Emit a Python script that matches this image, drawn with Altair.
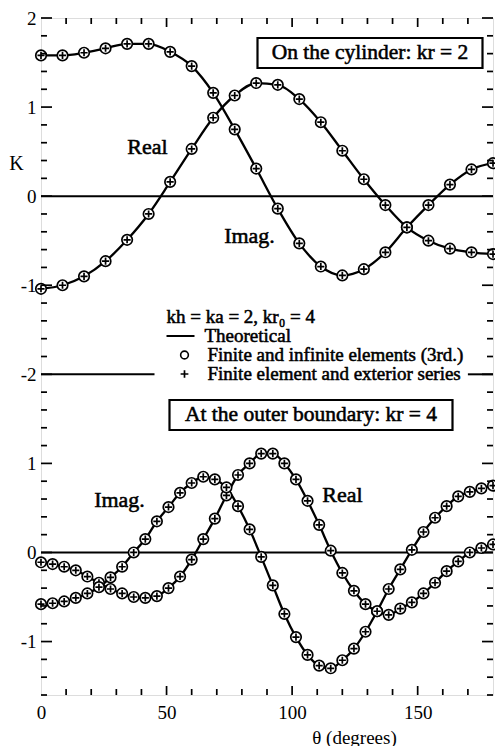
import altair as alt
import pandas as pd

# ---- node angles (degrees) -------------------------------------------------
theta_cyl = [0.00, 8.57, 17.14, 25.71, 34.29, 42.86, 51.43, 60.00, 68.57, 77.14, 85.71,
             94.29, 102.86, 111.43, 120.00, 128.57, 137.14, 145.71, 154.29, 162.86, 171.43, 180.00]
theta_out = [0.00, 4.62, 9.23, 13.85, 18.46, 23.08, 27.69, 32.31, 36.92, 41.54,
             46.15, 50.77, 55.38, 60.00, 64.62, 69.23, 73.85, 78.46, 83.08, 87.69,
             92.31, 96.92, 101.54, 106.15, 110.77, 115.38, 120.00, 124.62, 129.23, 133.85,
             138.46, 143.08, 147.69, 152.31, 156.92, 161.54, 166.15, 170.77, 175.38, 180.00]

# ---- K on the cylinder, kr = 2 ---------------------------------------------
real_cyl = [-1.04, -1.00, -0.90, -0.73, -0.49, -0.20, 0.16, 0.53, 0.88, 1.13, 1.27,
            1.25, 1.09, 0.83, 0.51, 0.19, -0.10, -0.35, -0.50, -0.59, -0.63, -0.65]
imag_cyl = [1.58, 1.58, 1.61, 1.66, 1.71, 1.71, 1.62, 1.46, 1.16, 0.75, 0.31,
            -0.14, -0.53, -0.79, -0.89, -0.82, -0.63, -0.35, -0.10, 0.13, 0.30, 0.37]

# ---- K at the outer boundary, kr = 4 ----------------------------------------
real_out = [-0.11, -0.13, -0.16, -0.20, -0.27, -0.34, -0.41, -0.46, -0.50, -0.51,
            -0.49, -0.40, -0.27, -0.08, 0.15, 0.38, 0.64, 0.87, 1.00, 1.11,
            1.11, 1.00, 0.82, 0.58, 0.31, 0.02, -0.23, -0.43, -0.58, -0.66,
            -0.70, -0.63, -0.56, -0.46, -0.34, -0.21, -0.10, 0.00, 0.05, 0.09]
imag_out = [-0.58, -0.57, -0.55, -0.51, -0.46, -0.39, -0.28, -0.16, 0.00, 0.15,
            0.35, 0.51, 0.67, 0.78, 0.85, 0.82, 0.73, 0.52, 0.26, -0.05,
            -0.37, -0.69, -0.95, -1.15, -1.27, -1.30, -1.21, -1.08, -0.89, -0.66,
            -0.41, -0.19, 0.03, 0.23, 0.39, 0.52, 0.63, 0.68, 0.72, 0.75]

# the outer-boundary panel is drawn 4 units lower on the shared K axis
panel_shift = {"cylinder": 0.0, "outer": -4.0}

rows = []
for panel, th, series in [("cylinder", theta_cyl, {"Real": real_cyl, "Imag": imag_cyl}),
                          ("outer", theta_out, {"Real": real_out, "Imag": imag_out})]:
    for part, vals in series.items():
        for t, v in zip(th, vals):
            rows.append({"theta": t, "value": v, "part": part, "panel": panel,
                         "k": v + panel_shift[panel], "curve": panel + "-" + part})
df = pd.DataFrame(rows)

# zero lines of both panels and the broken divider at K = -2
zero_df = pd.DataFrame({"k": [0.0, -4.0]})
divider_df = pd.DataFrame({"theta": [0.0, 170.0], "theta2": [45.2, 180.0], "k": [-2.0, -2.0]})

# tick positions
y_major = [-5, -4, -3, -2, -1, 0, 1, 2]
y_minor = [round(-5.6 + 0.2 * i, 1) for i in range(39)]
y_minor = [v for v in y_minor if abs(v - round(v)) > 1e-6]
x_major = [50, 100, 150]
x_minor = [10, 20, 30, 40, 60, 70, 80, 90, 110, 120, 130, 140, 160, 170]

W, H = 452, 677
FONT = "Liberation Serif"

X = alt.X("theta:Q",
          scale=alt.Scale(domain=[0, 180], nice=False, zero=False),
          axis=alt.Axis(values=[0, 50, 100, 150], title="θ (degrees)", tickSize=0,
                        domain=False, grid=False, labelFontSize=19, labelPadding=8,
                        labelFlush=False, labelColor="black", labelFont=FONT,
                        titleFont=FONT, titleFontSize=19, titleFontWeight="normal",
                        titleColor="black", titleX=313, titleY=48,
                        titleBaseline="alphabetic", titleAlign="center"))
Y = alt.Y("k:Q",
          scale=alt.Scale(domain=[-5.6, 2], nice=False, zero=False),
          axis=alt.Axis(values=y_major, tickSize=0, domain=False, grid=False,
                        labelExpr="datum.value < -2.5 ? '' + (datum.value + 4) : '' + datum.value",
                        labelFontSize=19, labelPadding=5, labelColor="black", labelFont=FONT,
                        title="K", titleAngle=0, titleX=-25, titleY=145,
                        titleAlign="center", titleBaseline="middle", titleFont=FONT,
                        titleFontSize=20, titleFontWeight="normal", titleColor="black"))

zero_lines = alt.Chart(zero_df).mark_rule(color="black", strokeWidth=2).encode(y=Y)
divider = alt.Chart(divider_df).mark_rule(color="black", strokeWidth=2).encode(
    x=X, x2="theta2:Q", y=Y)

curves = alt.Chart(df).mark_line(color="black", strokeWidth=2.3, interpolate="monotone").encode(
    x=X, y=Y, detail="curve:N")

OPLUS = "M-1,0A1,1,0,1,1,1,0A1,1,0,1,1,-1,0ZM-0.68,0L0.68,0M0,-0.68L0,0.68"
PLUS = "M-1,0L1,0M0,-1L0,1"
nodes = alt.Chart(df).mark_point(shape=OPLUS, size=110, filled=True, fill="white",
                                 stroke="black", strokeWidth=1.7, opacity=1).encode(
    x=X, y=Y, detail="curve:N")

# inward ticks on all four sides
yt_major = pd.DataFrame({"k": y_major})
yt_minor = pd.DataFrame({"k": y_minor})
xt_major = pd.DataFrame({"theta": x_major})
xt_minor = pd.DataFrame({"theta": x_minor})


def tick_layers():
    out = []
    for frame, ln in [(yt_major, 11), (yt_minor, 6)]:
        out.append(alt.Chart(frame).mark_rule(color="black", strokeWidth=1.7).encode(
            y=Y, x=alt.value(0), x2=alt.value(ln)))
        out.append(alt.Chart(frame).mark_rule(color="black", strokeWidth=1.7).encode(
            y=Y, x=alt.value(W), x2=alt.value(W - ln)))
    for frame, ln in [(xt_major, 9), (xt_minor, 6)]:
        out.append(alt.Chart(frame).mark_rule(color="black", strokeWidth=1.7).encode(
            x=X, y=alt.value(H), y2=alt.value(H - ln)))
        out.append(alt.Chart(frame).mark_rule(color="black", strokeWidth=1.7).encode(
            x=X, y=alt.value(0), y2=alt.value(ln)))
    return out


one = pd.DataFrame({"d": [0]})


def label(text, x, y, size, align="center"):
    return alt.Chart(one).mark_text(text=text, font=FONT, fontSize=size, align=align,
                                    baseline="middle", color="black", stroke="black",
                                    strokeWidth=0.55).encode(x=alt.value(x), y=alt.value(y))


def box(x0, x1, y0, y1):
    return alt.Chart(one).mark_rect(fill="white", stroke="black", strokeWidth=2.2).encode(
        x=alt.value(x0), x2=alt.value(x1), y=alt.value(y0), y2=alt.value(y1))


annotations = [
    box(216.5, 441.5, 20, 50),
    label("On the cylinder: kr = 2", 329, 35, 21.5),
    box(128.5, 411.5, 382, 412),
    label("At the outer boundary: kr = 4", 270, 397, 21.5),
    label("Real", 106.5, 129, 22),
    label("Imag.", 208.5, 218, 22),
    label("Imag.", 78.5, 482, 22),
    label("Real", 301.5, 477, 22),
    # legend
    label("kh = ka = 2, kr₀ = 4", 125.5, 299, 19, "left"),
    alt.Chart(one).mark_rule(color="black", strokeWidth=2).encode(
        x=alt.value(125.5), x2=alt.value(153.5), y=alt.value(318)),
    label("Theoretical", 163.5, 318, 19, "left"),
    alt.Chart(one).mark_point(shape="circle", size=60, filled=False, color="black",
                              strokeWidth=1.6, opacity=1).encode(
        x=alt.value(143.5), y=alt.value(337)),
    label("Finite and infinite elements (3rd.)", 166.5, 337, 19, "left"),
    alt.Chart(one).mark_point(shape=PLUS, size=60, filled=False, color="black",
                              strokeWidth=1.7, opacity=1).encode(
        x=alt.value(143.5), y=alt.value(356)),
    label("Finite element and exterior series", 166.5, 356, 19, "left"),
]

chart = alt.layer(
    zero_lines, divider, curves, nodes, *tick_layers(), *annotations
).properties(
    width=W, height=H,
    autosize=alt.AutoSizeParams(type="none"),
    padding={"left": 41, "top": 18, "right": 2, "bottom": 51},
    background="white",
).configure_view(
    stroke="black", strokeWidth=2
).configure(font=FONT)

chart.save("out.html", embed_options={"renderer": "svg", "actions": False})
